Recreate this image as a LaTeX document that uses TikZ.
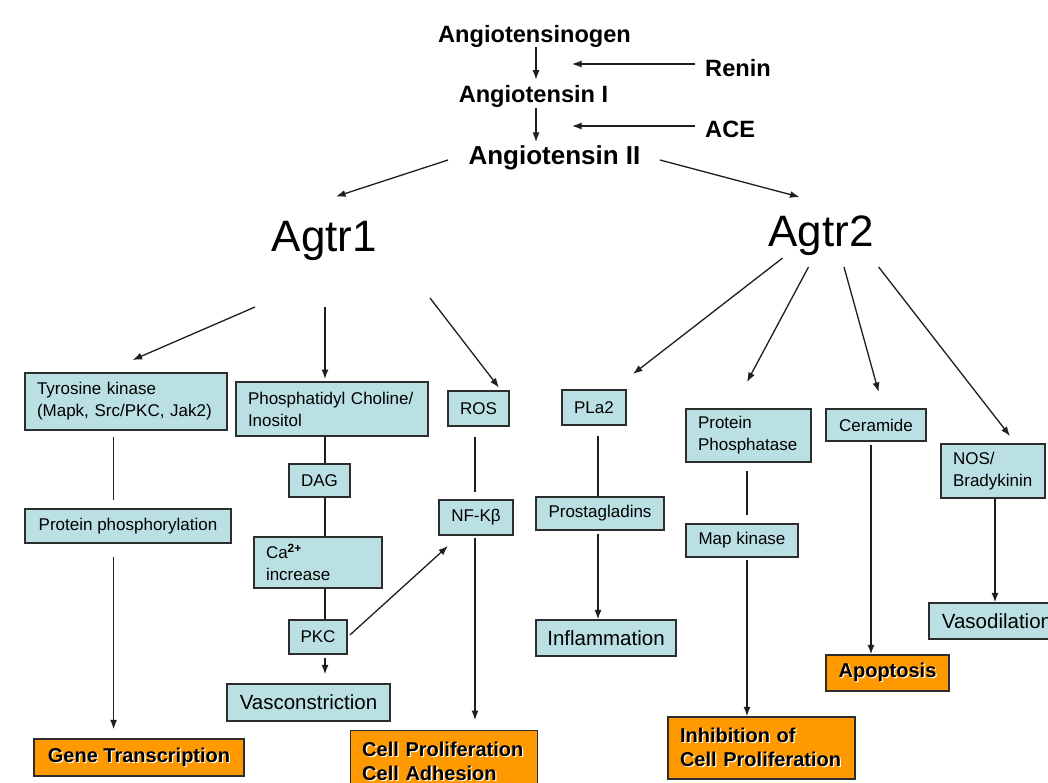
\documentclass[tikz,border=0pt]{standalone}
\usepackage{fontspec}
\setmainfont{Liberation Sans}
\usetikzlibrary{arrows.meta}
\definecolor{boxblue}{RGB}{187,224,227}
\definecolor{boxorange}{RGB}{255,153,0}
\definecolor{edgec}{RGB}{45,45,45}
\definecolor{linec}{RGB}{30,30,30}
\newcommand{\shtx}[1]{\leavevmode\rlap{\hspace{1.3pt}\raisebox{-1.3pt}{\textcolor{white}{#1}}}#1}
\begin{document}
\begin{tikzpicture}[x=1pt,y=-1pt,
  bb/.style={draw=edgec, line width=1.4pt, fill=boxblue, inner sep=0pt, font=\fontsize{17}{22}\selectfont},
  bbl/.style={bb, align=left, inner xsep=12pt},
  big/.style={draw=edgec, line width=1.4pt, fill=boxblue, inner sep=0pt, font=\fontsize{20.5}{24}\selectfont},
  ob/.style={draw=edgec, line width=1.4pt, fill=boxorange, inner sep=0pt, font=\fontsize{20}{24}\selectfont\bfseries},
  ttl/.style={inner sep=0pt, anchor=base, font=\fontsize{23.6}{28}\selectfont\bfseries},
  rec/.style={inner sep=0pt, anchor=base, font=\fontsize{44}{50}\selectfont},
  arr/.style={draw=linec, line width=1.3pt, -{Latex[length=9.5pt,width=7pt]}},
  ln/.style={draw=linec, line width=1.3pt}]
\useasboundingbox[fill=white] (0,0) rectangle (1048,782);

% top texts
\node[ttl] (agen) at (534.5,42) {Angiotensinogen};
\node[ttl] (ang1) at (533.5,102) {Angiotensin I};
\node[ttl, font=\fontsize{26}{30}\selectfont\bfseries] (ang2) at (554.5,164) {Angiotensin II};
\node[ttl, anchor=base west] (renin) at (705,76) {Renin};
\node[ttl, anchor=base west] (ace) at (705,137) {ACE};
\node[rec] (agtr1) at (324.5,251) {Agtr1};
\node[rec] (agtr2) at (821,246) {Agtr2};

% blue boxes
\node[bbl, text width=178pt, minimum width=202pt, minimum height=57pt] (tyr) at (126,401.5) {Tyrosine kinase\\(Mapk, Src/PKC, Jak2)};
\node[bbl, text width=168pt, minimum width=192pt, minimum height=54pt] (phos) at (332,409) {Phosphatidyl Choline/\\Inositol};
\node[bb, minimum width=61pt, minimum height=35pt] (ros) at (478.5,408.5) {ROS};
\node[bb, minimum width=61pt, minimum height=33pt] (dag) at (319.5,480.5) {DAG};
\node[bb, minimum width=206pt, minimum height=34pt] (pph) at (128,526) {Protein phosphorylation};
\node[bb, minimum width=74pt, minimum height=35pt] (nfk) at (476,517.5) {NF-Kβ};
\node[bbl, text width=104pt, minimum width=128pt, minimum height=51pt] (ca) at (318,562.5) {Ca\textsuperscript{\textbf{2+}}\\increase};
\node[bb, minimum width=58pt, minimum height=34pt] (pkc) at (318,637) {PKC};
\node[big, minimum width=163pt, minimum height=37pt] (vasc) at (308.5,702.5) {Vasconstriction};
\node[bb, minimum width=64pt, minimum height=35pt] (pla2) at (594,407.5) {PLa2};
\node[bbl, text width=101pt, minimum width=125pt, minimum height=53pt] (pp) at (748.5,435.5) {Protein\\Phosphatase};
\node[bb, minimum width=100pt, minimum height=32pt] (cer) at (876,425) {Ceramide};
\node[bbl, text width=80pt, minimum width=104pt, minimum height=54pt] (nos) at (993,471) {NOS/\\Bradykinin};
\node[bb, minimum width=128pt, minimum height=33pt] (prost) at (600,513.5) {Prostagladins};
\node[bb, minimum width=112pt, minimum height=33pt] (mapk) at (742,540.5) {Map kinase};
\node[big, minimum width=140pt, minimum height=36pt] (infl) at (606,638) {Inflammation};
\node[big, minimum width=136pt, minimum height=36pt] (vasd) at (997,621) {Vasodilation};

% orange boxes
\node[ob, minimum width=210pt, minimum height=37pt] (gene) at (139,757.5) {\shtx{Gene Transcription}};
\node[ob, anchor=north west, align=left, text width=163pt, inner xsep=12pt, inner ysep=11pt] (cellp) at (349.5,730) {\shtx{Cell Proliferation}\\\shtx{Cell Adhesion}};
\node[ob, align=left, text width=163pt, inner xsep=12pt, minimum width=187pt, minimum height=62pt] (inh) at (761.5,748) {\shtx{Inhibition of}\\\shtx{Cell Proliferation}};
\node[ob, minimum width=123pt, minimum height=36pt] (apo) at (887.5,673) {\shtx{Apoptosis}};

% columns and free ends
\coordinate (cG) at (536,0);
\coordinate (cA) at (325,0);
\coordinate (cT) at (113.6,0);
\coordinate (cN) at (475,0);
\coordinate (cP) at (598,0);
\coordinate (cM) at (747,0);
\coordinate (cC) at (871,0);
\coordinate (cV) at (995,0);
\coordinate (rtip) at (572,64);
\coordinate (atip) at (572,126);
\coordinate (a2l) at (448,160);
\coordinate (a2r) at (660,160);
\coordinate (g1in) at (336,196.5);
\coordinate (g2in) at (799.5,197);
\coordinate (g1a) at (255,307);
\coordinate (g1b) at (325,307);
\coordinate (g1c) at (430,298);
\coordinate (tyrin) at (132.6,360);
\coordinate (phosin) at (325,379);
\coordinate (rosin) at (499,387.6);
\coordinate (g2a) at (782.6,258);
\coordinate (g2b) at (808.5,267);
\coordinate (g2c) at (844,267);
\coordinate (g2d) at (878.6,267);
\coordinate (pla2in) at (633,374);
\coordinate (ppin) at (747,382);
\coordinate (cerin) at (878.6,392);
\coordinate (nosin) at (1010,436);
\coordinate (nfkin) at (448,546);

% top cascade
\draw[arr, shorten >=5pt] (agen.south -| cG) -- (ang1.north -| cG);
\draw[arr, shorten <=1pt, shorten >=3pt] (ang1.south -| cG) -- (ang2.north -| cG);
\draw[arr, shorten <=10pt] (renin.west |- rtip) -- (rtip);
\draw[arr, shorten <=10pt] (ace.west |- atip) -- (atip);
\draw[arr] (a2l) -- (g1in);
\draw[arr] (a2r) -- (g2in);

% Agtr1 branches
\draw[arr] (g1a) -- (tyrin);
\draw[arr] (g1b) -- (phosin);
\draw[arr] (g1c) -- (rosin);
\draw[ln, shorten <=6pt, shorten >=8pt] (tyr.south -| cT) -- (pph.north -| cT);
\draw[arr, shorten <=13pt, shorten >=9pt] (pph.south -| cT) -- (gene.north -| cT);
\draw[ln] (phos.south -| cA) -- (dag.north -| cA);
\draw[ln] (dag.south -| cA) -- (ca.north -| cA);
\draw[ln] (ca.south -| cA) -- (pkc.north -| cA);
\draw[arr, shorten <=3pt, shorten >=9pt] (pkc.south -| cA) -- (vasc.north -| cA);
\draw[arr, shorten <=3pt] (pkc.east) -- (nfkin);
\draw[ln, shorten <=10pt, shorten >=7pt] (ros.south -| cN) -- (nfk.north -| cN);
\draw[arr, shorten <=2pt, shorten >=10pt] (nfk.south -| cN) -- (cellp.north -| cN);

% Agtr2 branches
\draw[arr] (g2a) -- (pla2in);
\draw[arr] (g2b) -- (ppin);
\draw[arr] (g2c) -- (cerin);
\draw[arr] (g2d) -- (nosin);
\draw[ln, shorten <=10pt] (pla2.south -| cP) -- (prost.north -| cP);
\draw[arr, shorten <=3pt] (prost.south -| cP) -- (infl.north -| cP);
\draw[ln, shorten <=8pt, shorten >=8pt] (pp.south -| cM) -- (mapk.north -| cM);
\draw[arr, shorten <=2pt] (mapk.south -| cM) -- (inh.north -| cM);
\draw[arr, shorten <=3pt] (cer.south -| cC) -- (apo.north -| cC);
\draw[arr] (nos.south -| cV) -- (vasd.north -| cV);
\end{tikzpicture}
\end{document}
